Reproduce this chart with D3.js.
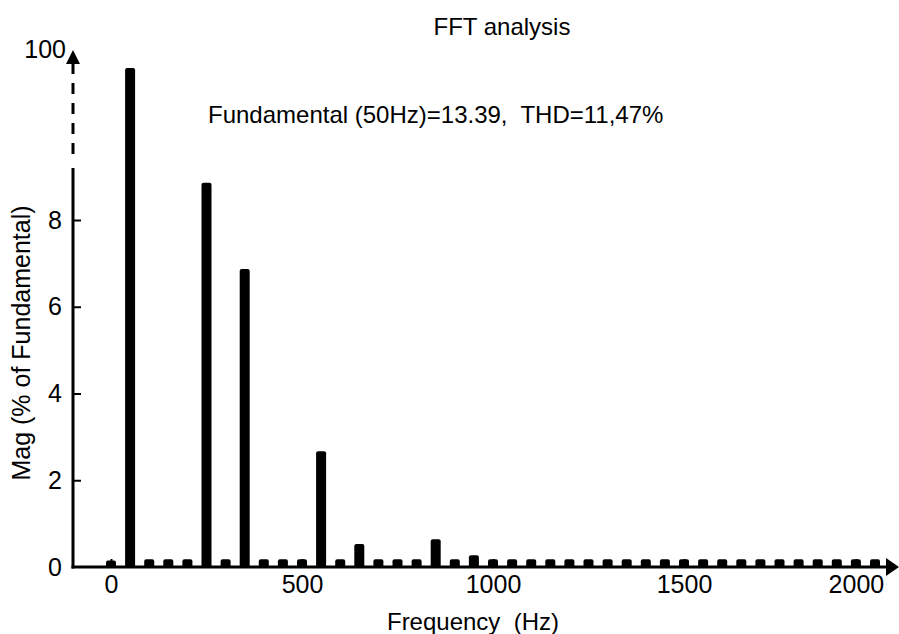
<!DOCTYPE html>
<html>
<head>
<meta charset="utf-8">
<script src="https://cdn.jsdelivr.net/npm/d3@7"></script>
<style>
    body { margin: 0; background: #fff; }
    svg { display: block; font-family: "Liberation Sans", Arial, sans-serif; }
</style>
</head>
<body>
<svg id="vis" width="899" height="634"></svg>
<script>
// harmonic frequencies (Hz) and their magnitude (% of fundamental)
const FREQS = [
    0, 50, 100, 150, 200, 250, 300, 350, 400, 450,
    500, 550, 600, 650, 700, 750, 800, 850, 900, 950,
    1000, 1050, 1100, 1150, 1200, 1250, 1300, 1350, 1400, 1450,
    1500, 1550, 1600, 1650, 1700, 1750, 1800, 1850, 1900, 1950, 2000
];
const MAGS = [
    0.15, 100, 0.18, 0.18, 0.18, 8.86, 0.18, 6.87, 0.18, 0.18,
    0.18, 2.67, 0.18, 0.53, 0.18, 0.18, 0.18, 0.64, 0.18, 0.27,
    0.18, 0.18, 0.18, 0.18, 0.18, 0.18, 0.18, 0.18, 0.18, 0.18,
    0.18, 0.18, 0.18, 0.18, 0.18, 0.18, 0.18, 0.18, 0.18, 0.18, 0.18
];

const X_TICKS = [0, 500, 1000, 1500, 1950];
const X_TICK_LABELS = ["0", "500", "1000", "1500", "2000"];
const Y_TICKS = [0, 2, 4, 6, 8];
const Y_TOP = 100;

const TITLE = "FFT analysis";
const NOTE = "Fundamental (50Hz)=13.39,  THD=11,47%";
const XLABEL = "Frequency  (Hz)";
const YLABEL = "Mag (% of Fundamental)";

const svg = d3.select("#vis");

const AXIS_X = 73;      // y axis position
const BASE_Y = 567;     // x axis position
const BAR_W = 10;
const BREAK = 9.2;      // y axis turns dashed above this value

const xscale = d3.scaleLinear().domain([0, 1000]).range([111, 493]);
// broken y axis: linear up to 10, squeezed from 10 to 100
const yscale = d3.scaleLinear().domain([0, 10, 100]).range([BASE_Y, 133.25, 68]);

function main() {
    const barData = FREQS.map((f, i) => ({f: f, v: MAGS[i], id: i}));
    drawBars(barData);
    drawAxes();
    drawTexts();
}

function drawBars(barData) {
    svg.selectAll(".bars").data(barData, d => d.id).join(
        enter => enter.append("rect")
            .attr("class", "bars")
            .attr("fill", "black")
            .attr("rx", 2)
            .attr("x", d => xscale(d.f) - BAR_W / 2)
            .attr("y", d => yscale(d.v))
            .attr("width", BAR_W)
            .attr("height", d => yscale(0) - yscale(d.v) + 1)
    );
}

function drawAxes() {
    // x axis
    const xAxis = d3.axisBottom(xscale)
        .tickValues(X_TICKS)
        .tickFormat((_, i) => X_TICK_LABELS[i])
        .tickSizeInner(-8)
        .tickSizeOuter(0)
        .tickPadding(8);
    const gx = svg.append("g")
        .attr("transform", `translate(0,${BASE_Y})`)
        .call(xAxis);
    gx.select(".domain").remove();
    gx.selectAll("line").attr("stroke", "black").attr("stroke-width", 2);
    gx.selectAll("text")
        .attr("font-size", 25)
        .attr("font-family", "Liberation Sans, Arial, sans-serif")
        .attr("fill", "black");

    // y axis
    const yAxis = d3.axisLeft(yscale)
        .tickValues(Y_TICKS)
        .tickFormat(d3.format("d"))
        .tickSizeInner(-8)
        .tickSizeOuter(0)
        .tickPadding(11);
    const gy = svg.append("g")
        .attr("transform", `translate(${AXIS_X},0)`)
        .call(yAxis);
    gy.select(".domain").remove();
    gy.selectAll("line")
        .attr("stroke", "black")
        .attr("stroke-width", 2)
        .attr("opacity", d => d === 0 ? 0 : 1);
    gy.selectAll("text")
        .attr("font-size", 25)
        .attr("font-family", "Liberation Sans, Arial, sans-serif")
        .attr("fill", "black");

    // axis lines
    svg.append("line")
        .attr("x1", AXIS_X - 1.5).attr("x2", 887)
        .attr("y1", BASE_Y).attr("y2", BASE_Y)
        .attr("stroke", "black").attr("stroke-width", 3);
    svg.append("polygon")
        .attr("points", `886,${BASE_Y - 9} 899,${BASE_Y} 886,${BASE_Y + 9}`)
        .attr("fill", "black");

    svg.append("line")
        .attr("x1", AXIS_X).attr("x2", AXIS_X)
        .attr("y1", BASE_Y + 1.5).attr("y2", yscale(BREAK))
        .attr("stroke", "black").attr("stroke-width", 3);
    svg.append("line")
        .attr("x1", AXIS_X).attr("x2", AXIS_X)
        .attr("y1", 63).attr("y2", 157)
        .attr("stroke", "black").attr("stroke-width", 3)
        .attr("stroke-dasharray", "11,9");
    svg.append("polygon")
        .attr("points", `${AXIS_X - 7},64 ${AXIS_X},50 ${AXIS_X + 7},64`)
        .attr("fill", "black");

    svg.append("text")
        .attr("x", AXIS_X - 7)
        .attr("y", 58)
        .attr("text-anchor", "end")
        .attr("font-size", 25)
        .text(Y_TOP);
}

function drawTexts() {
    svg.append("text")
        .attr("x", 502).attr("y", 35)
        .attr("text-anchor", "middle")
        .attr("font-size", 24)
        .text(TITLE);

    svg.append("text")
        .attr("x", 208).attr("y", 123)
        .attr("font-size", 24)
        .style("white-space", "pre")
        .text(NOTE);

    svg.append("text")
        .attr("x", 473).attr("y", 630)
        .attr("text-anchor", "middle")
        .attr("font-size", 24)
        .style("white-space", "pre")
        .text(XLABEL);

    svg.append("text")
        .attr("transform", "translate(30,343) rotate(-90)")
        .attr("text-anchor", "middle")
        .attr("font-size", 25)
        .text(YLABEL);
}

main();
</script>
</body>
</html>
